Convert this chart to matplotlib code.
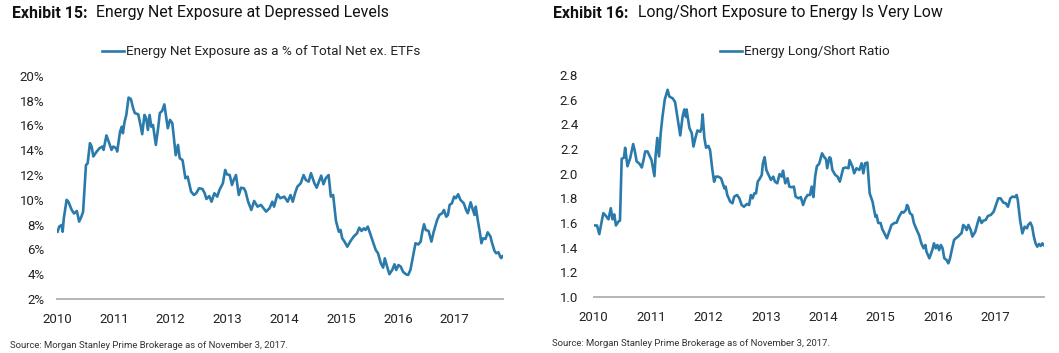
import matplotlib
matplotlib.use("Agg")
import matplotlib.pyplot as plt

plt.rcParams["font.family"] = ["Roboto", "DejaVu Sans"]

LINE_COLOR = "#2a7bab"
AXIS_COLOR = "#b0b0b0"
TEXT_COLOR = "#222222"

# Exhibit 15: Energy net exposure, % of total net ex. ETFs
net_dates = [
    2010.01, 2010.04, 2010.08, 2010.10, 2010.12, 2010.17, 2010.20, 2010.26, 2010.30, 2010.35,
    2010.39, 2010.43, 2010.46, 2010.51, 2010.54, 2010.58, 2010.61, 2010.64, 2010.70, 2010.75,
    2010.80, 2010.82, 2010.87, 2010.92, 2010.96, 2010.99, 2011.04, 2011.06, 2011.11, 2011.14,
    2011.16, 2011.19, 2011.22, 2011.26, 2011.30, 2011.34, 2011.37, 2011.43, 2011.47, 2011.50,
    2011.54, 2011.57, 2011.60, 2011.63, 2011.66, 2011.69, 2011.74, 2011.78, 2011.81, 2011.85,
    2011.89, 2011.95, 2011.99, 2012.03, 2012.09, 2012.13, 2012.16, 2012.21, 2012.26, 2012.30,
    2012.36, 2012.41, 2012.45, 2012.50, 2012.56, 2012.60, 2012.63, 2012.68, 2012.72, 2012.77,
    2012.82, 2012.86, 2012.92, 2012.96, 2012.99, 2013.04, 2013.08, 2013.11, 2013.15, 2013.20,
    2013.24, 2013.29, 2013.32, 2013.36, 2013.42, 2013.47, 2013.53, 2013.59, 2013.68, 2013.74,
    2013.79, 2013.82, 2013.88, 2013.93, 2014.00, 2014.06, 2014.11, 2014.15, 2014.19, 2014.23,
    2014.29, 2014.34, 2014.38, 2014.43, 2014.47, 2014.53, 2014.57, 2014.61, 2014.65, 2014.69,
    2014.73, 2014.78, 2014.82, 2014.86, 2014.91, 2014.96, 2014.99, 2015.02, 2015.06, 2015.11,
    2015.16, 2015.22, 2015.28, 2015.32, 2015.36, 2015.40, 2015.43, 2015.47, 2015.52, 2015.56,
    2015.61, 2015.65, 2015.70, 2015.74, 2015.77, 2015.81, 2015.85, 2015.90, 2015.94, 2015.97,
    2016.01, 2016.05, 2016.09, 2016.14, 2016.18, 2016.22, 2016.26, 2016.31, 2016.36, 2016.40,
    2016.43, 2016.46, 2016.49, 2016.54, 2016.59, 2016.63, 2016.69, 2016.73, 2016.78, 2016.81,
    2016.85, 2016.88, 2016.91, 2016.95, 2016.99, 2017.02, 2017.06, 2017.10, 2017.16, 2017.20,
    2017.23, 2017.28, 2017.32, 2017.35, 2017.37, 2017.41, 2017.44, 2017.47, 2017.50, 2017.54,
    2017.58, 2017.63, 2017.65, 2017.70, 2017.73, 2017.77, 2017.80, 2017.82, 2017.84,
]
net_pct = [
    7.43, 7.84, 7.97, 7.43, 8.5, 10.0, 9.85, 9.18, 8.9, 9.1,
    8.24, 8.64, 9.05, 12.8, 12.95, 14.57, 14.3, 13.5, 13.9, 14.17,
    14.3, 14.03, 15.2, 14.57, 14.03, 14.3, 14.17, 13.9, 15.5, 15.9,
    15.37, 16.3, 16.85, 18.25, 18.14, 17.4, 17.0, 16.9, 16.04, 15.3,
    16.85, 16.58, 15.64, 16.85, 15.9, 16.04, 14.43, 15.78, 17.0, 17.17,
    17.7, 15.78, 16.45, 16.18, 13.6, 14.43, 13.36, 13.2, 11.74, 11.87,
    10.66, 10.39, 10.53, 10.93, 10.88, 10.53, 10.07, 10.3, 9.85, 10.53,
    10.26, 10.8, 11.34, 12.41, 12.06, 12.0, 11.2, 11.6, 12.0, 10.39,
    10.98, 10.93, 10.66, 9.91, 9.18, 9.91, 9.45, 9.59, 9.05, 9.32,
    9.85, 9.45, 10.45, 10.13, 10.26, 9.85, 10.39, 9.85, 10.53, 11.06,
    11.34, 12.0, 11.6, 11.47, 12.15, 11.34, 10.98, 11.47, 11.95, 11.26,
    11.74, 12.0, 10.26, 10.39, 8.3, 7.43, 7.57, 6.9, 6.63, 6.22,
    6.63, 7.03, 7.3, 7.75, 7.49, 7.7, 7.57, 7.84, 7.17, 6.63,
    5.95, 5.69, 4.88, 4.53, 5.28, 4.61, 4.0, 4.34, 4.8, 4.34,
    4.74, 4.61, 4.2, 4.0, 3.94, 4.34, 5.28, 6.5, 6.4, 6.63,
    7.43, 8.03, 7.57, 7.49, 6.63, 7.43, 8.37, 8.78, 8.92, 9.18,
    8.64, 8.78, 9.59, 9.72, 10.26, 10.13, 10.45, 10.0, 9.72, 9.18,
    8.92, 9.8, 9.18, 8.78, 9.45, 8.24, 7.43, 6.5, 6.9, 6.84,
    7.38, 7.03, 6.63, 5.87, 5.69, 5.77, 5.41, 5.3, 5.45,
]

# Exhibit 16: Energy long/short ratio
ls_dates = [
    2010.01, 2010.06, 2010.10, 2010.14, 2010.17, 2010.21, 2010.26, 2010.30, 2010.33, 2010.36,
    2010.39, 2010.43, 2010.46, 2010.49, 2010.53, 2010.55, 2010.59, 2010.64, 2010.69, 2010.72,
    2010.75, 2010.80, 2010.84, 2010.87, 2010.90, 2010.94, 2010.98, 2011.01, 2011.06, 2011.08,
    2011.11, 2011.14, 2011.17, 2011.20, 2011.24, 2011.29, 2011.32, 2011.38, 2011.42, 2011.46,
    2011.51, 2011.55, 2011.58, 2011.61, 2011.62, 2011.67, 2011.71, 2011.74, 2011.78, 2011.81,
    2011.86, 2011.88, 2011.90, 2011.93, 2011.96, 2012.00, 2012.03, 2012.07, 2012.10, 2012.13,
    2012.17, 2012.22, 2012.25, 2012.28, 2012.30, 2012.33, 2012.38, 2012.42, 2012.45, 2012.50,
    2012.54, 2012.58, 2012.62, 2012.67, 2012.71, 2012.74, 2012.77, 2012.80, 2012.83, 2012.86,
    2012.90, 2012.93, 2012.95, 2012.98, 2013.01, 2013.05, 2013.09, 2013.13, 2013.16, 2013.20,
    2013.24, 2013.28, 2013.30, 2013.34, 2013.38, 2013.41, 2013.45, 2013.49, 2013.52, 2013.57,
    2013.61, 2013.65, 2013.69, 2013.73, 2013.77, 2013.80, 2013.83, 2013.86, 2013.89, 2013.93,
    2013.98, 2014.02, 2014.05, 2014.07, 2014.11, 2014.13, 2014.16, 2014.21, 2014.25, 2014.29,
    2014.32, 2014.35, 2014.39, 2014.44, 2014.46, 2014.51, 2014.54, 2014.58, 2014.63, 2014.67,
    2014.70, 2014.73, 2014.77, 2014.81, 2014.86, 2014.91, 2014.93, 2014.96, 2015.00, 2015.03,
    2015.08, 2015.11, 2015.15, 2015.19, 2015.24, 2015.28, 2015.32, 2015.37, 2015.40, 2015.44,
    2015.46, 2015.48, 2015.51, 2015.55, 2015.58, 2015.63, 2015.67, 2015.71, 2015.75, 2015.78,
    2015.80, 2015.85, 2015.87, 2015.90, 2015.93, 2015.96, 2015.99, 2016.02, 2016.05, 2016.08,
    2016.11, 2016.15, 2016.18, 2016.21, 2016.24, 2016.28, 2016.31, 2016.35, 2016.39, 2016.41,
    2016.44, 2016.47, 2016.50, 2016.53, 2016.57, 2016.60, 2016.65, 2016.69, 2016.72, 2016.76,
    2016.79, 2016.83, 2016.87, 2016.92, 2016.97, 2017.01, 2017.05, 2017.09, 2017.14, 2017.18,
    2017.22, 2017.26, 2017.30, 2017.34, 2017.37, 2017.39, 2017.43, 2017.47, 2017.51, 2017.55,
    2017.57, 2017.61, 2017.64, 2017.67, 2017.70, 2017.73, 2017.76, 2017.79, 2017.82, 2017.84,
]
ls_ratio = [
    1.58, 1.58, 1.51, 1.61, 1.68, 1.66, 1.63, 1.72, 1.63, 1.67,
    1.58, 1.61, 1.62, 2.12, 2.13, 2.21, 2.06, 2.13, 2.24, 2.18,
    2.10, 2.08, 2.05, 2.11, 2.18, 2.18, 2.14, 2.11, 1.98, 2.14,
    2.29, 2.14, 2.33, 2.46, 2.60, 2.68, 2.625, 2.61, 2.58, 2.46,
    2.31, 2.46, 2.52, 2.46, 2.52, 2.37, 2.33, 2.22, 2.30, 2.35,
    2.34, 2.37, 2.48, 2.29, 2.21, 2.225, 2.19, 2.03, 1.935, 1.976,
    1.976, 1.963, 1.922, 1.88, 1.895, 1.827, 1.773, 1.76, 1.814, 1.827,
    1.80, 1.746, 1.732, 1.754, 1.746, 1.827, 1.80, 1.84, 1.84, 1.935,
    1.963, 1.99, 2.084, 2.133, 2.03, 1.99, 1.949, 1.976, 1.935, 1.922,
    1.997, 1.976, 2.024, 1.922, 1.963, 1.895, 1.89, 1.895, 1.814, 1.80,
    1.81, 1.746, 1.80, 1.827, 1.827, 1.895, 1.81, 1.976, 2.06, 2.08,
    2.165, 2.133, 2.117, 2.044, 2.133, 2.125, 2.03, 1.99, 1.976, 1.935,
    1.99, 2.044, 2.05, 2.044, 2.11, 2.057, 2.003, 2.044, 2.03, 2.084,
    2.003, 2.084, 2.09, 1.84, 1.773, 1.65, 1.665, 1.60, 1.60, 1.55,
    1.503, 1.476, 1.53, 1.584, 1.60, 1.603, 1.65, 1.69, 1.684, 1.706,
    1.746, 1.732, 1.68, 1.665, 1.60, 1.543, 1.503, 1.435, 1.395, 1.422,
    1.367, 1.314, 1.34, 1.38, 1.435, 1.395, 1.422, 1.38, 1.422, 1.395,
    1.314, 1.30, 1.273, 1.314, 1.38, 1.462, 1.476, 1.49, 1.51, 1.516,
    1.584, 1.57, 1.543, 1.584, 1.543, 1.49, 1.53, 1.60, 1.646, 1.60,
    1.619, 1.624, 1.657, 1.665, 1.692, 1.746, 1.80, 1.80, 1.765, 1.76,
    1.732, 1.80, 1.814, 1.81, 1.827, 1.787, 1.624, 1.516, 1.57, 1.557,
    1.584, 1.603, 1.57, 1.49, 1.435, 1.408, 1.43, 1.414, 1.435, 1.422,
]

year_ticks = [2010, 2011, 2012, 2013, 2014, 2015, 2016, 2017]
net_ticks = [2, 4, 6, 8, 10, 12, 14, 16, 18, 20]
ls_ticks = [1.0, 1.2, 1.4, 1.6, 1.8, 2.0, 2.2, 2.4, 2.6, 2.8]

SOURCE = "Source: Morgan Stanley Prime Brokerage as of November 3, 2017."
TICK_FS = 9.5
TITLE_FS = 11.4


def style_axis(ax, ypad):
    for side in ("top", "right", "left"):
        ax.spines[side].set_visible(False)
    ax.spines["bottom"].set_color(AXIS_COLOR)
    ax.spines["bottom"].set_linewidth(1.3)
    ax.set_xticks(year_ticks)
    ax.set_xticklabels([str(y) for y in year_ticks])
    ax.tick_params(axis="x", length=0, pad=10, labelsize=TICK_FS, colors=TEXT_COLOR)
    ax.tick_params(axis="y", length=0, pad=ypad, labelsize=TICK_FS, colors=TEXT_COLOR)
    ax.set_xlim(2010, 2017.85)


fig = plt.figure(figsize=(10.59, 3.53), dpi=100)

# --- Exhibit 15 ---
ax1 = fig.add_axes([0.0538, 0.153, 0.4212, 0.632])
ax1.plot(net_dates, net_pct, color=LINE_COLOR, lw=1.9,
         label="Energy Net Exposure as a % of Total Net ex. ETFs")
ax1.set_ylim(2, 20)
ax1.set_yticks(net_ticks)
ax1.set_yticklabels([f"{v}%" for v in net_ticks])
style_axis(ax1, ypad=9)

# --- Exhibit 16 ---
ax2 = fig.add_axes([0.5605, 0.1586, 0.4255, 0.629])
ax2.plot(ls_dates, ls_ratio, color=LINE_COLOR, lw=1.9,
         label="Energy Long/Short Ratio")
ax2.set_ylim(1.0, 2.8)
ax2.set_yticks(ls_ticks)
ax2.set_yticklabels([f"{v:.1f}" for v in ls_ticks])
style_axis(ax2, ypad=11)

for ax, cx in ((ax1, 261.5 / 1059), (ax2, 805 / 1059)):
    fig.legend(handles=ax.get_lines(), loc="center", bbox_to_anchor=(cx, 1 - 52 / 353),
               frameon=False, fontsize=9.7, handlelength=1.6, handletextpad=0.2,
               labelcolor=TEXT_COLOR)

# titles
title_y = 1 - 13 / 353
fig.text(12 / 1059, title_y, "Exhibit 15:", fontsize=TITLE_FS, fontweight="bold",
         va="center", color="#111111")
fig.text(96 / 1059, title_y, "Energy Net Exposure at Depressed Levels", fontsize=TITLE_FS,
         va="center", color="#111111")
fig.text(553 / 1059, title_y, "Exhibit 16:", fontsize=TITLE_FS, fontweight="bold",
         va="center", color="#111111")
fig.text(638 / 1059, title_y, "Long/Short Exposure to Energy Is Very Low", fontsize=TITLE_FS,
         va="center", color="#111111")

# sources
fig.text(10 / 1059, 1 - 345 / 353, SOURCE, fontsize=6.8, va="center", color="#333333")
fig.text(552 / 1059, 1 - 344 / 353, SOURCE, fontsize=6.8, va="center", color="#333333")

fig.savefig("out.png", dpi=100, facecolor="white")
